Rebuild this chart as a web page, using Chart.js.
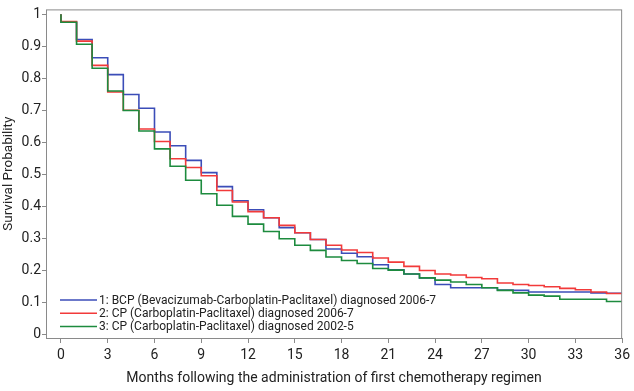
<!DOCTYPE html>
<html>
<head>
<meta charset="utf-8">
<script src="https://cdn.jsdelivr.net/npm/chart.js"></script>
<style>
  html, body { margin: 0; padding: 0; background: #fff; }
  #wrap { width: 634px; height: 391px; }
</style>
</head>
<body>
<div id="wrap"><canvas id="kmChart" width="634" height="391"></canvas></div>
<script>
// survival curves, value held over each month interval [m, m+1)
const months = [0,1,2,3,4,5,6,7,8,9,10,11,12,13,14,15,16,17,18,19,20,21,22,23,24,25,26,27,28,29,30,31,32,33,34,35,36];
const seriesLabels = [
  "1: BCP (Bevacizumab-Carboplatin-Paclitaxel) diagnosed 2006-7",
  "2: CP (Carboplatin-Paclitaxel) diagnosed 2006-7",
  "3: CP (Carboplatin-Paclitaxel) diagnosed 2002-5"
];
const bcp2006 = [0.975,0.921,0.864,0.811,0.749,0.706,0.632,0.589,0.543,0.505,0.461,0.417,0.389,0.364,0.333,0.317,0.296,0.266,0.253,0.242,0.217,0.201,0.188,0.176,0.155,0.145,0.145,0.145,0.138,0.137,0.132,0.132,0.132,0.132,0.129,0.128];
const cp2006 = [0.977,0.916,0.840,0.757,0.700,0.641,0.602,0.548,0.521,0.495,0.449,0.413,0.383,0.364,0.340,0.317,0.296,0.278,0.263,0.255,0.238,0.225,0.212,0.199,0.188,0.185,0.177,0.173,0.160,0.155,0.152,0.148,0.143,0.139,0.132,0.127];
const cp2002 = [0.975,0.906,0.831,0.760,0.699,0.635,0.579,0.525,0.481,0.439,0.403,0.368,0.344,0.321,0.298,0.278,0.262,0.241,0.230,0.221,0.205,0.200,0.188,0.176,0.169,0.163,0.155,0.145,0.137,0.129,0.122,0.119,0.109,0.109,0.109,0.102];
const xTicks = [0,3,6,9,12,15,18,21,24,27,30,33,36];
const yTicks = [0,0.1,0.2,0.3,0.4,0.5,0.6,0.7,0.8,0.9,1];
const colors = ["#3b4db8", "#f23a3a", "#1d8b3e"];

const FONT = "Roboto, 'DejaVu Sans', sans-serif";

// turn interval values into step points (start at 1 at month 0)
function stepPoints(vals) {
  const pts = [{ x: months[0], y: 1 }];
  vals.forEach((v, i) => pts.push({ x: months[i], y: v }));
  pts.push({ x: months[months.length - 1], y: vals[vals.length - 1] });
  return pts;
}

const frameAndLegend = {
  id: "frameAndLegend",
  afterDatasetsDraw(chart) {
    const { ctx, chartArea: a } = chart;
    ctx.save();
    ctx.strokeStyle = "#8a8a8a";
    ctx.lineWidth = 1;
    ctx.strokeRect(a.left + 0.5, a.top + 0.5, a.right - a.left - 1, a.bottom - a.top);
    // legend, bottom-left inside the plot
    ctx.font = "12px " + FONT;
    ctx.textBaseline = "middle";
    ctx.fillStyle = "#222";
    chart.data.datasets.forEach((ds, i) => {
      const y = 300 + i * 13.3;
      ctx.strokeStyle = ds.borderColor;
      ctx.lineWidth = 1.5;
      ctx.beginPath();
      ctx.moveTo(60, y);
      ctx.lineTo(97, y);
      ctx.stroke();
      ctx.fillText(ds.label, 99, y + 0.5);
    });
    ctx.restore();
  }
};

new Chart(document.getElementById("kmChart").getContext("2d"), {
  type: "line",
  data: {
    datasets: [bcp2006, cp2006, cp2002].map((vals, i) => ({
      label: seriesLabels[i],
      data: stepPoints(vals),
      borderColor: colors[i],
      borderWidth: 1.6,
      pointRadius: 0,
      stepped: "before",
      fill: false,
      order: 2 - i
    }))
  },
  options: {
    responsive: false,
    animation: false,
    layout: { padding: { top: 3, right: 9, left: 0, bottom: 0 } },
    plugins: { legend: { display: false }, tooltip: { enabled: false } },
    scales: {
      x: {
        type: "linear",
        min: -0.96,
        max: 36,
        afterBuildTicks: ax => { ax.ticks = xTicks.map(v => ({ value: v })); },
        afterFit: ax => { ax.height = 53; },
        grid: { drawOnChartArea: false, drawTicks: true, tickLength: 5, color: "#8a8a8a" },
        border: { display: false },
        ticks: { font: { family: FONT, size: 14 }, color: "#222", padding: 4, maxRotation: 0 },
        title: {
          display: true,
          text: "Months following the administration of first chemotherapy regimen",
          font: { family: FONT, size: 14 },
          color: "#222",
          padding: { top: 2, bottom: 4 }
        }
      },
      y: {
        min: -0.012,
        max: 1.015,
        afterBuildTicks: ax => { ax.ticks = yTicks.map(v => ({ value: v })); },
        afterFit: ax => { ax.width = 46; },
        grid: { drawOnChartArea: false, drawTicks: true, tickLength: 4, color: "#8a8a8a" },
        border: { display: false },
        ticks: {
          font: { family: FONT, size: 14 },
          color: "#222",
          padding: 1,
          callback: v => String(Math.round(v * 10) / 10)
        },
        title: {
          display: true,
          text: "Survival Probability",
          font: { family: FONT, size: 13.5 },
          color: "#222",
          padding: { top: 1, bottom: 2 }
        }
      }
    }
  },
  plugins: [frameAndLegend]
});
</script>
</body>
</html>
